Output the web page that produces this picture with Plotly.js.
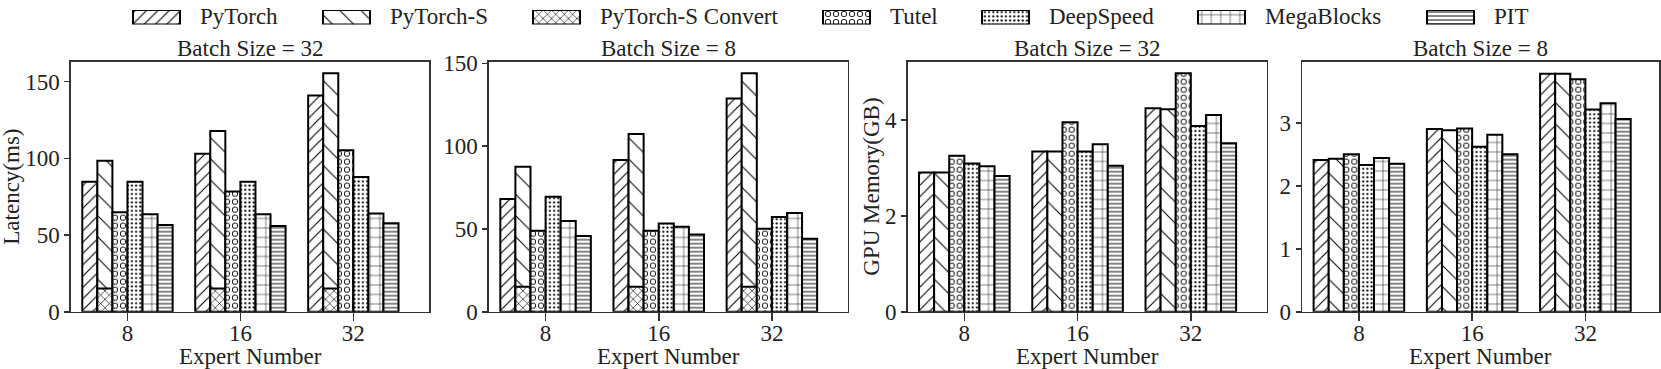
<!DOCTYPE html>
<html>
<head>
<meta charset="utf-8">
<script src="https://cdn.plot.ly/plotly-3.0.1.min.js"></script>
<style>html,body{margin:0;padding:0;background:#fff;}#chart{width:1661px;height:369px;}</style>
</head>
<body>
<div id="chart"></div>
<script>
// ---------------- data ----------------
const experts = ['8', '16', '32'];
const seriesNames = ['PyTorch', 'PyTorch-S', 'PyTorch-S Convert', 'Tutel', 'DeepSpeed', 'MegaBlocks', 'PIT'];
const panelTitles = ['Batch Size = 32', 'Batch Size = 8', 'Batch Size = 32', 'Batch Size = 8'];
const yTitles = ['Latency(ms)', 'GPU Memory(GB)'];
const xTitle = 'Expert Number';

// Latency (ms), batch size 32
const lat32_pytorch    = [84.8, 103.0, 140.9];
const lat32_pytorchS   = [98.5, 117.8, 155.4];
const lat32_convert    = [15.2, 15.2, 15.2];
const lat32_tutel      = [64.8, 78.3, 105.2];
const lat32_deepspeed  = [84.8, 84.8, 87.8];
const lat32_megablocks = [63.5, 63.5, 64.1];
const lat32_pit        = [56.5, 55.9, 57.6];

// Latency (ms), batch size 8
const lat8_pytorch    = [68.0, 91.6, 128.7];
const lat8_pytorchS   = [87.6, 107.3, 144.0];
const lat8_convert    = [15.1, 15.1, 15.1];
const lat8_tutel      = [48.9, 48.9, 50.1];
const lat8_deepspeed  = [69.5, 53.2, 57.2];
const lat8_megablocks = [54.8, 51.3, 59.6];
const lat8_pit        = [45.7, 46.7, 44.1];

// GPU memory (GB), batch size 32
const mem32_pytorch    = [2.90, 3.34, 4.24];
const mem32_pytorchS   = [2.90, 3.34, 4.22];
const mem32_tutel      = [3.25, 3.95, 4.97];
const mem32_deepspeed  = [3.09, 3.34, 3.87];
const mem32_megablocks = [3.03, 3.49, 4.10];
const mem32_pit        = [2.83, 3.04, 3.51];

// GPU memory (GB), batch size 8
const mem8_pytorch    = [2.41, 2.90, 3.78];
const mem8_pytorchS   = [2.43, 2.88, 3.78];
const mem8_tutel      = [2.50, 2.91, 3.69];
const mem8_deepspeed  = [2.33, 2.62, 3.21];
const mem8_megablocks = [2.44, 2.81, 3.31];
const mem8_pit        = [2.35, 2.50, 3.06];

// ---------------- styling ----------------
const W = 1661, H = 369;
const FONT = 'Liberation Serif';
const FS = 23;
const TXT = '#222';
const AX = '#333';

function pat(shape, size, solidity) {
  return {shape: shape, size: size, solidity: solidity, fgcolor: 'black', bgcolor: 'white', fillmode: 'replace'};
}
// Tutel uses two stacked pattern layers (black dots, then smaller white dots) to give open rings
const styles = {
  'PyTorch':           {slot: 0, layers: [pat('/', 8, 0.14)]},
  'PyTorch-S':         {slot: 1, layers: [pat('\\', 15, 0.07)]},
  'PyTorch-S Convert': {slot: 1, layers: [pat('x', 6, 0.2)]},
  'Tutel':             {slot: 2, layers: [pat('.', 8, 0.45), {shape: '.', size: 8, solidity: 0.24, fgcolor: 'white', fillmode: 'replace'}]},
  'DeepSpeed':         {slot: 3, layers: [pat('.', 4.2, 0.2)]},
  'MegaBlocks':        {slot: 4, layers: [pat('+', 9.5, 0.1)]},
  'PIT':               {slot: 5, layers: [pat('-', 4, 0.24)]}
};

const panels = [
  {data: {'PyTorch': lat32_pytorch, 'PyTorch-S': lat32_pytorchS, 'PyTorch-S Convert': lat32_convert, 'Tutel': lat32_tutel, 'DeepSpeed': lat32_deepspeed, 'MegaBlocks': lat32_megablocks, 'PIT': lat32_pit},
   dom: [71, 429], yr: [0, 163], xr: [-0.5, 2.67], ticks: [0, 50, 100, 150]},
  {data: {'PyTorch': lat8_pytorch, 'PyTorch-S': lat8_pytorchS, 'PyTorch-S Convert': lat8_convert, 'Tutel': lat8_tutel, 'DeepSpeed': lat8_deepspeed, 'MegaBlocks': lat8_megablocks, 'PIT': lat8_pit},
   dom: [489, 847.7], yr: [0, 151], xr: [-0.5, 2.67], ticks: [0, 50, 100, 150]},
  {data: {'PyTorch': mem32_pytorch, 'PyTorch-S': mem32_pytorchS, 'Tutel': mem32_tutel, 'DeepSpeed': mem32_deepspeed, 'MegaBlocks': mem32_megablocks, 'PIT': mem32_pit},
   dom: [907.7, 1266.7], yr: [0, 5.21], xr: [-0.5, 2.67], ticks: [0, 2, 4]},
  {data: {'PyTorch': mem8_pytorch, 'PyTorch-S': mem8_pytorchS, 'Tutel': mem8_tutel, 'DeepSpeed': mem8_deepspeed, 'MegaBlocks': mem8_megablocks, 'PIT': mem8_pit},
   dom: [1302.3, 1659], yr: [0, 3.97], xr: [-0.5, 2.65], ticks: [0, 1, 2, 3]}
];

const PLOT_TOP = 61.7, PLOT_BOTTOM = 311.7;
const BW = 0.8 / 6;
const px2x = v => v / W;
const px2y = v => 1 - v / H;

const traces = [];
const layout = {
  width: W, height: H,
  margin: {l: 0, r: 0, t: 0, b: 0},
  paper_bgcolor: 'white', plot_bgcolor: 'white',
  barmode: 'overlay', showlegend: false,
  font: {family: FONT, size: FS, color: TXT},
  annotations: []
};

panels.forEach((p, i) => {
  const n = i + 1;
  const xa = 'x' + (n === 1 ? '' : n), ya = 'y' + (n === 1 ? '' : n);
  seriesNames.forEach(name => {
    const vals = p.data[name];
    if (!vals) return;
    const st = styles[name];
    st.layers.forEach((pt, li) => {
      const last = li === st.layers.length - 1;
      traces.push({
        type: 'bar', name: name, x: experts, y: vals, xaxis: xa, yaxis: ya,
        offset: -0.4 + st.slot * BW, width: BW,
        marker: {color: li === 0 ? 'white' : 'rgba(0,0,0,0)', pattern: pt,
                 line: {color: 'black', width: last ? 2 : 0}},
        hoverinfo: 'x+y+name'
      });
    });
  });
  const common = {showline: true, mirror: true, linecolor: AX, linewidth: 1.6, showgrid: false, zeroline: false,
                  ticks: 'outside', tickcolor: AX, tickwidth: 1.6, fixedrange: true,
                  tickfont: {family: FONT, size: FS, color: TXT}};
  layout['xaxis' + (n === 1 ? '' : n)] = Object.assign({}, common, {
    type: 'category', domain: [px2x(p.dom[0]), px2x(p.dom[1])], range: p.xr, ticklen: 8,
    ticklabelstandoff: -8,
    anchor: ya, categoryorder: 'array', categoryarray: experts
  });
  layout['yaxis' + (n === 1 ? '' : n)] = Object.assign({}, common, {
    domain: [px2y(PLOT_BOTTOM), px2y(PLOT_TOP)], range: p.yr, ticklen: 5,
    tickvals: p.ticks, anchor: xa
  });
  const cx = px2x((p.dom[0] + p.dom[1]) / 2);
  layout.annotations.push({text: panelTitles[i], xref: 'paper', yref: 'paper', x: cx, y: px2y(48.5),
    xanchor: 'center', yanchor: 'middle', showarrow: false, font: {family: FONT, size: FS, color: TXT}});
  layout.annotations.push({text: xTitle, xref: 'paper', yref: 'paper', x: cx, y: px2y(356),
    xanchor: 'center', yanchor: 'middle', showarrow: false, font: {family: FONT, size: FS, color: TXT}});
});

layout.annotations.push({text: yTitles[0], xref: 'paper', yref: 'paper', x: px2x(12), y: px2y(186.7),
  xanchor: 'center', yanchor: 'middle', textangle: -90, showarrow: false, font: {family: FONT, size: FS, color: TXT}});
layout.annotations.push({text: yTitles[1], xref: 'paper', yref: 'paper', x: px2x(872), y: px2y(186.7),
  xanchor: 'center', yanchor: 'middle', textangle: -90, showarrow: false, font: {family: FONT, size: FS, color: TXT}});

// ---------------- legend (key swatches drawn as bars on a hidden key axis) ----------------
const legendLeft = [133, 323, 533, 823, 982, 1198, 1427];
const SW = 47;
layout.xaxis5 = {domain: [0, 1], range: [0, W], visible: false, fixedrange: true, anchor: 'y5'};
layout.yaxis5 = {domain: [px2y(24.5), px2y(10)], range: [0, 1], visible: false, fixedrange: true, anchor: 'x5'};
seriesNames.forEach((name, k) => {
  const st = styles[name];
  st.layers.forEach((pt, li) => {
    const last = li === st.layers.length - 1;
    traces.push({
      type: 'bar', name: name, x: [legendLeft[k] + SW / 2], y: [1], width: [SW], base: [0],
      xaxis: 'x5', yaxis: 'y5', hoverinfo: 'skip',
      marker: {color: li === 0 ? 'white' : 'rgba(0,0,0,0)', pattern: pt,
               line: {color: 'black', width: last ? 2 : 0}}
    });
  });
  layout.annotations.push({text: name, xref: 'paper', yref: 'paper', x: px2x(legendLeft[k] + 65), y: px2y(16.5),
    xanchor: 'left', yanchor: 'middle', showarrow: false, font: {family: FONT, size: FS, color: TXT}});
});

Plotly.newPlot('chart', traces, layout, {staticPlot: true, displayModeBar: false});
</script>
</body>
</html>
